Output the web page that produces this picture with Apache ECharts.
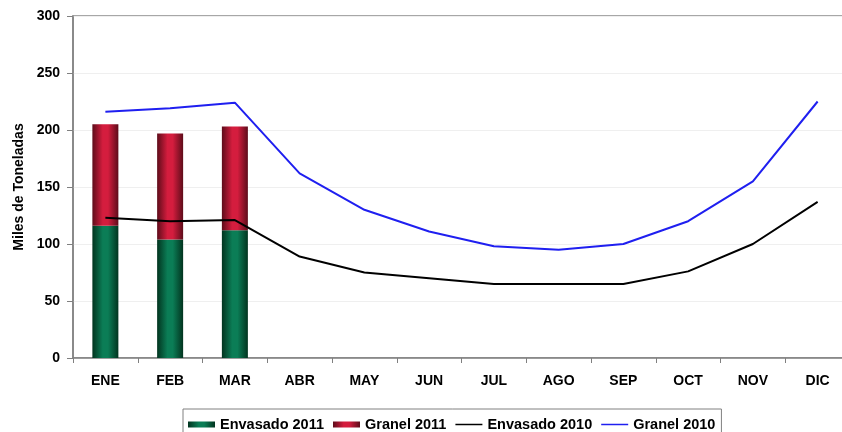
<!DOCTYPE html>
<html>
<head>
<meta charset="utf-8">
<script src="https://cdn.jsdelivr.net/npm/echarts@6/dist/echarts.min.js"></script>
<style>
html,body{margin:0;padding:0;background:#fff;}
#c{width:842px;height:432px;}
</style>
</head>
<body>
<div id="c"></div>
<script>
const categories = ['ENE','FEB','MAR','ABR','MAY','JUN','JUL','AGO','SEP','OCT','NOV','DIC'];
const envasado2011 = [116, 104, 112, null, null, null, null, null, null, null, null, null];
const granel2011 = [89, 93, 91, null, null, null, null, null, null, null, null, null];
const envasado2010 = [123, 120, 121, 89, 75, 70, 65, 65, 65, 76, 100, 137];
const granel2010 = [216, 219, 224, 162, 130, 111, 98, 95, 100, 120, 155, 225];
const yTicks = [0, 300, 50];

const FONT = '"Liberation Sans", Arial, sans-serif';
const chart = echarts.init(document.getElementById('c'), null, {renderer: 'canvas'});

function hGrad(edge, mid) {
  return new echarts.graphic.LinearGradient(0, 0, 1, 0, [
    {offset: 0, color: edge},
    {offset: 0.4, color: mid},
    {offset: 0.6, color: mid},
    {offset: 1, color: edge}
  ]);
}
const lineIcon = 'path://M0,0 M27,6 M0,2.25 L27,2.25 L27,3.75 L0,3.75 Z';

chart.setOption({
  animation: false,
  backgroundColor: '#fff',
  textStyle: {fontFamily: FONT},
  grid: {
    left: 73, top: 16, width: 777, height: 342,
    outerBoundsMode: 'none',
    containLabel: false,
    show: true, borderColor: '#8a8a8a', borderWidth: 1.5, backgroundColor: 'transparent'
  },
  legend: {
    left: 183, top: 409,
    padding: [8, 6, 8, 5],
    itemGap: 9,
    itemWidth: 27, itemHeight: 6,
    borderColor: '#808080', borderWidth: 1,
    textStyle: {fontFamily: FONT, fontSize: 14.5, fontWeight: 'bold', color: '#000'},
    data: [
      {name: 'Envasado 2011', icon: 'rect'},
      {name: 'Granel 2011', icon: 'rect'},
      {name: 'Envasado 2010', icon: lineIcon},
      {name: 'Granel 2010', icon: lineIcon}
    ]
  },
  xAxis: {
    type: 'category',
    data: categories,
    boundaryGap: true,
    axisLine: {lineStyle: {color: '#808080', width: 1.5}},
    axisTick: {show: true, interval: 0, length: 5, lineStyle: {color: '#808080'}},
    axisLabel: {fontFamily: FONT, fontSize: 14, fontWeight: 'bold', color: '#000', margin: 16, interval: 0},
    splitLine: {show: false}
  },
  yAxis: {
    type: 'value',
    min: yTicks[0], max: yTicks[1], interval: yTicks[2],
    name: 'Miles de Toneladas',
    nameLocation: 'middle',
    nameGap: 47,
    nameTextStyle: {fontFamily: FONT, fontSize: 14, fontWeight: 'bold', color: '#000'},
    axisLine: {show: true, lineStyle: {color: '#808080', width: 1.5}},
    axisTick: {show: true, length: 6, lineStyle: {color: '#808080'}},
    axisLabel: {fontFamily: FONT, fontSize: 14, fontWeight: 'bold', color: '#000', margin: 13},
    splitLine: {show: true, lineStyle: {color: '#efefef', width: 1}}
  },
  series: [
    {
      name: 'Envasado 2011', type: 'bar', stack: 'a', data: envasado2011, barWidth: 26,
      itemStyle: {color: hGrad('#02341f', '#0b7d56')}
    },
    {
      name: 'Granel 2011', type: 'bar', stack: 'a', data: granel2011, barWidth: 26,
      itemStyle: {color: hGrad('#5e0c1a', '#d41d3e')}
    },
    {
      name: 'Envasado 2010', type: 'line', data: envasado2010, symbol: 'none',
      lineStyle: {color: '#000', width: 2}, itemStyle: {color: '#000'}
    },
    {
      name: 'Granel 2010', type: 'line', data: granel2010, symbol: 'none',
      lineStyle: {color: '#1f1ff0', width: 2}, itemStyle: {color: '#1f1ff0'}
    }
  ]
});
</script>
</body>
</html>
